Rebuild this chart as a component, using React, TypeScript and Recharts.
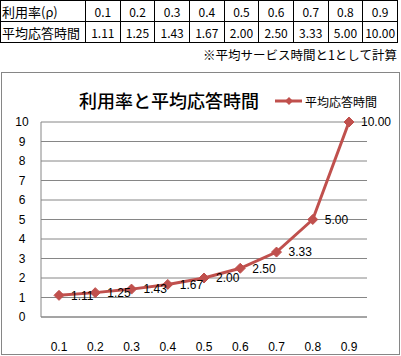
import { LineChart, Line, XAxis, YAxis, CartesianGrid, LabelList } from 'recharts';

const rhoLabels = ['0.1', '0.2', '0.3', '0.4', '0.5', '0.6', '0.7', '0.8', '0.9'];
const responseTimes = [1.11, 1.25, 1.43, 1.67, 2.0, 2.5, 3.33, 5.0, 10.0];
const yTicks = [0, 1, 2, 3, 4, 5, 6, 7, 8, 9, 10];

const seriesName = '平均応答時間';
const rowHeader = '利用率(ρ)';
const chartTitle = '利用率と平均応答時間';
const note = '※平均サービス時間と1として計算';

const RED = '#C0504D';
const GRID = '#868686';
const NUM_FONT = "'Liberation Sans', 'Noto Sans CJK JP', sans-serif";
const JP_FONT = "'Noto Sans CJK JP', sans-serif";

const data = rhoLabels.map((rho, i) => ({ rho, value: responseTimes[i] }));

function Diamond(props: any) {
  const { cx, cy } = props;
  if (cx == null || cy == null) return null;
  const r = 5;
  return (
    <polygon
      points={`${cx},${cy - r} ${cx + r},${cy} ${cx},${cy + r} ${cx - r},${cy}`}
      fill={RED}
      stroke={RED}
      strokeWidth={1}
    />
  );
}

function XTick(props: any) {
  const { x, y, payload } = props;
  return (
    <text x={x} y={y + 22} textAnchor="middle" dominantBaseline="central" fontSize={12} fontFamily={NUM_FONT} fill="#000">
      {payload.value}
    </text>
  );
}

function YTick(props: any) {
  const { y, payload } = props;
  return (
    <text x={21} y={y} textAnchor="middle" dominantBaseline="central" fontSize={12} fontFamily={NUM_FONT} fill="#000">
      {payload.value}
    </text>
  );
}

function DataTable() {
  const cell: React.CSSProperties = {
    border: '1px solid #000',
    padding: 0,
    height: 20,
    textAlign: 'center',
    fontSize: 12,
    fontFamily: "'Liberation Sans Narrow', 'Noto Sans CJK JP', sans-serif",
    whiteSpace: 'nowrap',
    overflow: 'hidden',
  };
  const head: React.CSSProperties = { ...cell, textAlign: 'left', paddingLeft: 1, fontSize: 13, fontFamily: JP_FONT };
  return (
    <table
      style={{
        position: 'absolute',
        left: 0,
        top: 0,
        width: 398,
        borderCollapse: 'collapse',
        tableLayout: 'fixed',
      }}
    >
      <colgroup>
        <col style={{ width: 85 }} />
        {rhoLabels.map((r) => (
          <col key={r} />
        ))}
      </colgroup>
      <tbody>
        <tr>
          <td style={head}>{rowHeader}</td>
          {rhoLabels.map((r) => (
            <td key={r} style={cell}>{r}</td>
          ))}
        </tr>
        <tr>
          <td style={head}>{seriesName}</td>
          {responseTimes.map((v, i) => (
            <td key={i} style={cell}>{v.toFixed(2)}</td>
          ))}
        </tr>
      </tbody>
    </table>
  );
}

export default function App() {
  return (
    <div style={{ position: 'relative', width: 401, height: 356, background: '#fff', overflow: 'hidden' }}>
      <style>{`body{margin:0}`}</style>
      <DataTable />
      <div
        style={{
          position: 'absolute',
          right: 4,
          top: 46,
          fontSize: 12.5,
          lineHeight: '18px',
          fontFamily: JP_FONT,
          color: '#000',
        }}
      >
        {note}
      </div>

      <div style={{ position: 'absolute', left: 1, top: 72, width: 399, height: 283 }}>
        <LineChart width={399} height={283} data={data} margin={{ top: 50, right: 33, bottom: 0, left: 0 }}>
          <CartesianGrid vertical={false} stroke={GRID} strokeWidth={1} />
          <XAxis
            dataKey="rho"
            height={38}
            tickLine={false}
            axisLine={{ stroke: GRID }}
            tick={<XTick />}
            interval={0}
            padding={{ left: 18, right: 18 }}
          />
          <YAxis
            width={40}
            domain={[0, 10]}
            ticks={yTicks}
            tickLine={false}
            axisLine={{ stroke: GRID }}
            tick={<YTick />}
            interval={0}
          />
          <Line
            type="linear"
            dataKey="value"
            name={seriesName}
            stroke={RED}
            strokeWidth={3}
            dot={<Diamond />}
            activeDot={false}
            isAnimationActive={false}
          >
            <LabelList
              dataKey="value"
              position="right"
              offset={12}
              formatter={(v: any) => Number(v).toFixed(2)}
              fontSize={12}
              fontFamily={NUM_FONT}
              fill="#000"
            />
          </Line>
        </LineChart>

        <div
          style={{
            position: 'absolute',
            left: 78,
            top: 16,
            fontSize: 18,
            fontWeight: 500,
            lineHeight: '24px',
            fontFamily: JP_FONT,
            color: '#000',
            whiteSpace: 'nowrap',
          }}
        >
          {chartTitle}
        </div>

        <div style={{ position: 'absolute', left: 273, top: 19, display: 'flex', alignItems: 'center', height: 20 }}>
          <svg width={29} height={12}>
            <line x1={1} y1={6} x2={28} y2={6} stroke={RED} strokeWidth={3} />
            <polygon points="15,2 19,6 15,10 11,6" fill={RED} />
          </svg>
          <span style={{ fontSize: 12, fontFamily: JP_FONT, color: '#000', marginLeft: 2 }}>{seriesName}</span>
        </div>

        <div
          style={{
            position: 'absolute',
            inset: 0,
            border: `1px solid ${GRID}`,
            boxSizing: 'border-box',
            pointerEvents: 'none',
          }}
        />
      </div>
    </div>
  );
}
